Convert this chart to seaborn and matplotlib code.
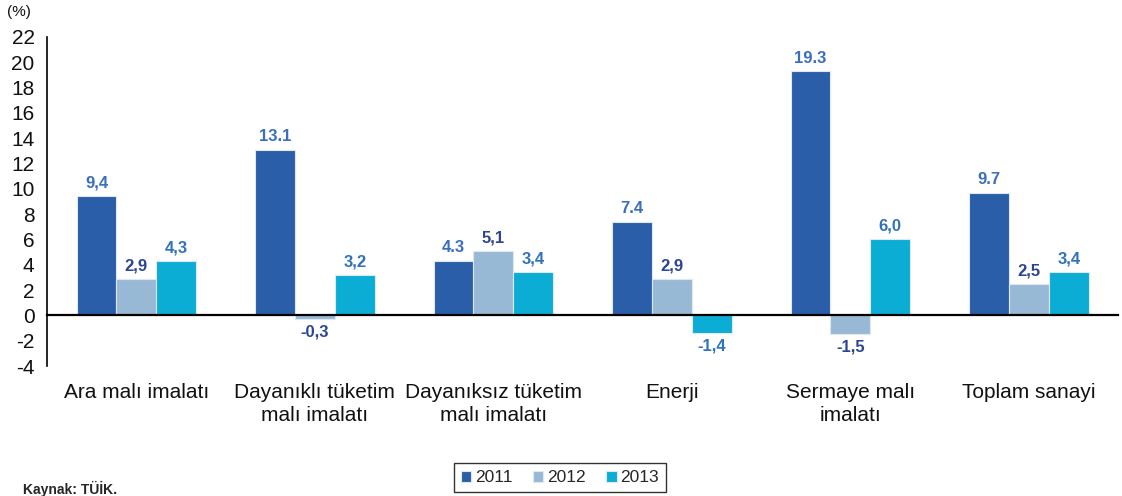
import numpy as np
import pandas as pd
import matplotlib
matplotlib.use("Agg")
import matplotlib.pyplot as plt
import seaborn as sns

# sektörler ve yıllık değişim (%)
categories = ["Ara malı imalatı", "Dayanıklı tüketim\nmalı imalatı", "Dayanıksız tüketim\nmalı imalatı",
              "Enerji", "Sermaye malı\nimalatı", "Toplam sanayi"]
years = ["2011", "2012", "2013"]
v2011 = [9.4, 13.1, 4.3, 7.4, 19.3, 9.7]
v2012 = [2.9, -0.3, 5.1, 2.9, -1.5, 2.5]
v2013 = [4.3, 3.2, 3.4, -1.4, 6.0, 3.4]
# grafikteki etiketler (orijinaldeki gibi karışık ondalık ayırıcı)
lab2011 = ["9,4", "13.1", "4.3", "7.4", "19.3", "9.7"]
lab2012 = ["2,9", "-0,3", "5,1", "2,9", "-1,5", "2,5"]
lab2013 = ["4,3", "3,2", "3,4", "-1,4", "6,0", "3,4"]

bar_colors = ["#2a5ea8", "#98b9d6", "#0cadd4"]
label_colors = ["#3a6fbe", "#2b4596", "#2f72bd"]

df = pd.DataFrame({
    "kategori": categories * 3,
    "yil": np.repeat(years, len(categories)),
    "deger": v2011 + v2012 + v2013,
})

sns.set_theme(style="white")
plt.rcParams["font.family"] = ["Liberation Sans", "DejaVu Sans"]
plt.rcParams["axes.unicode_minus"] = False

fig = plt.figure(figsize=(11.22, 4.96), dpi=100)
ax = fig.add_axes([0.042, 0.262, 0.9545, 0.6635])

sns.barplot(data=df, x="kategori", y="deger", hue="yil", palette=bar_colors,
            width=0.67, saturation=1, edgecolor="#dfe8f2", linewidth=0.8, ax=ax)

for cont, labs, col in zip(ax.containers, [lab2011, lab2012, lab2013], label_colors):
    ax.bar_label(cont, labels=labs, padding=4, color=col, fontsize=12, fontweight="bold")

ax.set_xlim(-0.5, 5.5)
ax.set_ylim(-4, 22)
ax.set_yticks(np.arange(-4, 23, 2))
ax.set_xlabel("")
ax.set_ylabel("")

for s in ["top", "right"]:
    ax.spines[s].set_visible(False)
ax.spines["left"].set_color("black")
ax.spines["left"].set_linewidth(1.2)
ax.spines["bottom"].set_position(("data", 0))
ax.spines["bottom"].set_color("black")
ax.spines["bottom"].set_linewidth(1.6)

ax.set_xticks(range(len(categories)))
ax.set_xticklabels(categories, fontsize=15, color="#111111", linespacing=1.3)
ax.set_xticks(np.arange(0.5, 6, 1), minor=True)
ax.tick_params(axis="x", which="major", length=0, pad=48.5)
ax.tick_params(axis="x", which="minor", direction="out", length=5, width=1, color="#333333")
ax.tick_params(axis="y", direction="out", length=5, width=1, color="black",
               labelsize=15, labelcolor="#111111", pad=4)

ax.legend(loc="center", bbox_to_anchor=(0.499, 0.037), bbox_transform=fig.transFigure,
          ncol=3, frameon=True, fancybox=False, edgecolor="black", fontsize=12.5,
          handlelength=0.6, handleheight=0.6, handletextpad=0.2, columnspacing=1.2,
          borderpad=0.4, title=None)
ax.get_legend().get_frame().set_linewidth(1.0)

fig.text(0.006, 0.975, "(%)", fontsize=11, va="center", ha="left", color="#111111")
fig.text(0.0205, 0.014, "Kaynak: TÜİK.", fontsize=10, fontweight="bold", va="center", ha="left")

fig.savefig("out.png", dpi=100)
